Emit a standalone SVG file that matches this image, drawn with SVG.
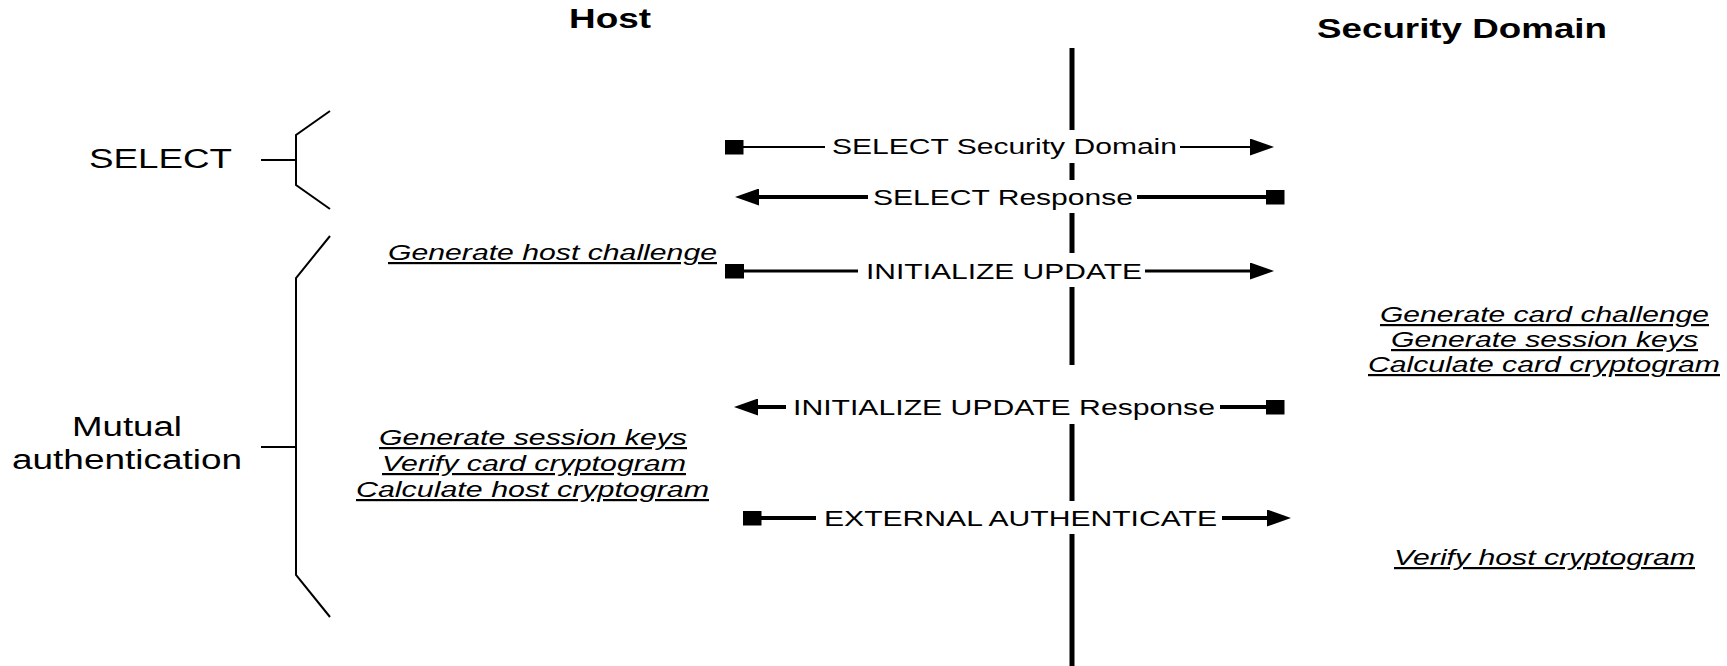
<svg xmlns="http://www.w3.org/2000/svg" width="1727" height="666" viewBox="0 0 1727 666">
  <style>
    text { font-family: "Liberation Sans", Arial, sans-serif; fill: #000; }
    .head { font-size: 28px; font-weight: bold; }
    .phase { font-size: 27px; }
    .msg { font-size: 22px; }
    .note { font-size: 22px; font-style: italic; text-decoration: underline; }
    .brace { fill: none; stroke: #000; stroke-width: 2; }
    .life { fill: none; stroke: #000; stroke-width: 5; }
    .conn { fill: none; stroke: #000; marker-start: url(#sq); marker-end: url(#arr); }
  </style>
  <defs>
    <marker id="arr" markerUnits="userSpaceOnUse" viewBox="0 0 24 17" markerWidth="24" markerHeight="17" refX="0" refY="8.5" orient="auto">
      <path d="M0,0 L24,8.5 L0,17 z" fill="#000"/>
    </marker>
    <marker id="sq" markerUnits="userSpaceOnUse" viewBox="0 0 19 15" markerWidth="19" markerHeight="15" refX="9.5" refY="7.5" orient="auto">
      <rect x="0" y="0" width="19" height="15" fill="#000"/>
    </marker>
  </defs>

  <g id="host">
    <text class="head" x="569" y="28" textLength="82" lengthAdjust="spacingAndGlyphs">Host</text>
  </g>
  <g id="security-domain">
    <text class="head" x="1317" y="38" textLength="290" lengthAdjust="spacingAndGlyphs">Security Domain</text>
    <path class="life" d="M1072,48 V130 M1072,163 V180 M1072,213 V253 M1072,287 V365 M1072,424 V501 M1072,534 V666"/>
  </g>

  <g id="phase-select">
    <text class="phase" x="89" y="168" textLength="143" lengthAdjust="spacingAndGlyphs">SELECT</text>
    <path class="brace" d="M261,160 H296 M330,111 L296,135 V185 L330,209"/>
  </g>
  <g id="phase-mutual">
    <text class="phase" x="72" y="436" textLength="110" lengthAdjust="spacingAndGlyphs">Mutual</text>
    <text class="phase" x="12" y="469" textLength="230" lengthAdjust="spacingAndGlyphs">authentication</text>
    <path class="brace" d="M261,447 H296 M330,236 L296,278 V575 L330,617"/>
  </g>

  <g id="host-notes">
    <text class="note" x="388" y="260" textLength="329" lengthAdjust="spacingAndGlyphs">Generate host challenge</text>
    <text class="note" x="379" y="445" textLength="308" lengthAdjust="spacingAndGlyphs">Generate session keys</text>
    <text class="note" x="382" y="471" textLength="304" lengthAdjust="spacingAndGlyphs">Verify card cryptogram</text>
    <text class="note" x="356" y="497" textLength="353" lengthAdjust="spacingAndGlyphs">Calculate host cryptogram</text>
  </g>
  <g id="card-notes">
    <text class="note" x="1380" y="322" textLength="329" lengthAdjust="spacingAndGlyphs">Generate card challenge</text>
    <text class="note" x="1391" y="347" textLength="307" lengthAdjust="spacingAndGlyphs">Generate session keys</text>
    <text class="note" x="1368" y="372" textLength="352" lengthAdjust="spacingAndGlyphs">Calculate card cryptogram</text>
    <text class="note" x="1394" y="565" textLength="301" lengthAdjust="spacingAndGlyphs">Verify host cryptogram</text>
  </g>

  <g id="connectors">
    <path class="conn" stroke-width="2" d="M734,147 H825 M1180,147 H1250"/>
    <text class="msg" x="832" y="154" textLength="345" lengthAdjust="spacingAndGlyphs">SELECT Security Domain</text>
    <path class="conn" stroke-width="4" d="M1275,197 H1137 M868,197 H759"/>
    <text class="msg" x="873" y="205" textLength="260" lengthAdjust="spacingAndGlyphs">SELECT Response</text>
    <path class="conn" stroke-width="3" d="M734.5,271 H858 M1145,271 H1250"/>
    <text class="msg" x="866" y="279" textLength="276" lengthAdjust="spacingAndGlyphs">INITIALIZE UPDATE</text>
    <path class="conn" stroke-width="4" d="M1275,407 H1220 M786,407 H758"/>
    <text class="msg" x="793" y="415" textLength="422" lengthAdjust="spacingAndGlyphs">INITIALIZE UPDATE Response</text>
    <path class="conn" stroke-width="4" d="M752,518 H816 M1222,518 H1267"/>
    <text class="msg" x="824" y="526" textLength="393" lengthAdjust="spacingAndGlyphs">EXTERNAL AUTHENTICATE</text>
  </g>
</svg>
